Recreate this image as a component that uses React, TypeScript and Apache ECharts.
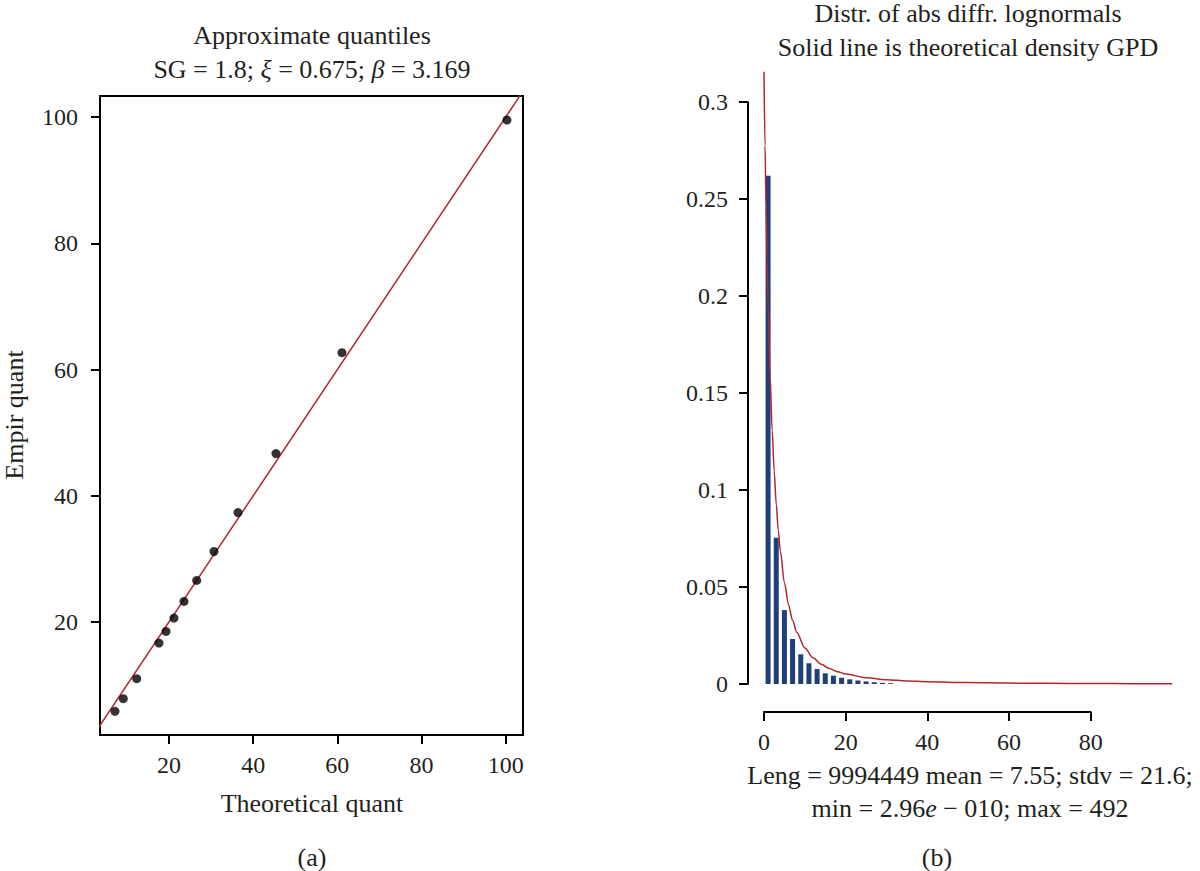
import React, { useEffect, useRef } from 'react';
import * as echarts from 'echarts';

const FONT = '"Liberation Serif", "Times New Roman", serif';
const INK = '#231f20';
const RED = '#b3262e';
const NAVY = '#1f3f78';

// Panel (a): QQ plot
const qqTheoretical = [7.17, 9.14, 12.33, 17.62, 19.29, 21.19, 23.56, 26.58, 30.69, 36.39, 45.42, 61.09, 100.29];
const qqEmpirical = [5.85, 7.86, 11.03, 16.66, 18.51, 20.62, 23.26, 26.58, 31.17, 37.34, 46.68, 62.66, 99.53];
const refLine = [0, 110];
const qqTicks = [20, 40, 60, 80, 100];

// Panel (b): histogram + GPD density
const binCenters = [1, 3, 5, 7, 9, 11, 13, 15, 17, 19, 21, 23, 25, 27, 29, 31];
const binDensity = [0.262, 0.0754, 0.0381, 0.0232, 0.0153, 0.0107, 0.0077, 0.0055, 0.0043, 0.0032, 0.0024, 0.0018, 0.0013, 0.0009, 0.0006, 0.0004];
const gpdX = [0, 0.25, 0.5, 0.75, 1, 1.5, 2, 2.5, 3, 3.5, 4, 5, 6, 7, 8, 10, 12, 14, 16, 18, 20, 25, 30, 35, 40, 50, 60, 70, 80, 90, 100];
const gpdDensity = [0.3156, 0.2774, 0.2455, 0.2185, 0.1954, 0.1586, 0.1308, 0.1094, 0.0926, 0.0792, 0.0684, 0.0522, 0.0409, 0.0328, 0.0267, 0.0186, 0.01355, 0.01023, 0.00795, 0.00632, 0.00513, 0.00324, 0.00221, 0.00158, 0.00118, 0.000713, 0.00047, 0.000329, 0.000241, 0.000182, 0.000142];
const distTicks = [0, 20, 40, 60, 80];

const tickStyle = { color: '#000', width: 2 };
const labelStyle = { fontFamily: FONT, fontSize: 24, color: INK };

function txt(text: string, x: number, y: number, extra: any = {}) {
  return {
    type: 'text',
    x,
    y,
    ...extra,
    style: {
      text,
      fontFamily: FONT,
      fontSize: 26,
      fill: INK,
      textAlign: 'center',
      textVerticalAlign: 'middle',
      ...(extra.style || {}),
    },
  };
}

export default function App() {
  const ref = useRef<HTMLDivElement>(null);
  useEffect(() => {
    if (!ref.current) return;
    const chart = echarts.init(ref.current, null, { renderer: 'svg' });
    const richItalic = {
      i: { fontFamily: FONT, fontSize: 26, fontStyle: 'italic', fill: INK },
    };
    chart.setOption({
      animation: false,
      backgroundColor: '#fff',
      grid: [
        { left: 100, top: 96, width: 423, height: 639, show: true, borderColor: '#000', borderWidth: 2, backgroundColor: 'transparent' },
        { left: 764, top: 102, width: 408.4, height: 582 },
        { left: 764, top: 711, width: 326.7, height: 1 },
      ],
      xAxis: [
        {
          gridIndex: 0, type: 'value', min: 3.61, max: 104.1,
          axisLine: { show: false },
          axisTick: { show: true, customValues: qqTicks, length: 9, lineStyle: tickStyle },
          axisLabel: { customValues: qqTicks, margin: 18, ...labelStyle },
          splitLine: { show: false },
        },
        { gridIndex: 1, type: 'value', min: 0, max: 100, show: false },
        {
          gridIndex: 2, type: 'value', min: 0, max: 80, interval: 20,
          axisLine: { show: true, onZero: false, lineStyle: tickStyle },
          axisTick: { show: true, customValues: distTicks, length: 9, lineStyle: tickStyle },
          axisLabel: { customValues: distTicks, margin: 18, ...labelStyle },
          splitLine: { show: false },
        },
      ],
      yAxis: [
        {
          gridIndex: 0, type: 'value', min: 2.1, max: 103.33,
          axisLine: { show: false },
          axisTick: { show: true, customValues: qqTicks, length: 9, lineStyle: tickStyle },
          axisLabel: { customValues: qqTicks, margin: 22, ...labelStyle },
          splitLine: { show: false },
        },
        {
          gridIndex: 1, type: 'value', min: 0, max: 0.3, interval: 0.05, offset: 16,
          axisLine: { show: true, onZero: false, lineStyle: tickStyle },
          axisTick: { show: true, length: 9, lineStyle: tickStyle },
          axisLabel: { margin: 20, ...labelStyle },
          splitLine: { show: false },
        },
        { gridIndex: 2, type: 'value', min: 0, max: 1, show: false },
      ],
      series: [
        {
          type: 'line', xAxisIndex: 0, yAxisIndex: 0,
          data: refLine.map((v) => [v, v]),
          symbol: 'none', clip: true,
          lineStyle: { color: RED, width: 1.5 },
          z: 2,
        },
        {
          type: 'scatter', xAxisIndex: 0, yAxisIndex: 0,
          data: qqTheoretical.map((x, i) => [x, qqEmpirical[i]]),
          symbol: 'circle', symbolSize: 9,
          itemStyle: { color: '#000' },
          z: 3,
        },
        {
          type: 'bar', xAxisIndex: 1, yAxisIndex: 1,
          data: binCenters.map((x, i) => [x, binDensity[i]]),
          barWidth: 5,
          itemStyle: { color: NAVY },
          z: 2,
        },
        {
          type: 'line', xAxisIndex: 1, yAxisIndex: 1,
          data: gpdX.map((x, i) => [x, gpdDensity[i]]),
          symbol: 'none', clip: false,
          smooth: 0.3, smoothMonotone: 'x',
          lineStyle: { color: RED, width: 1.5 },
          z: 3,
        },
      ],
      graphic: [
        txt('Approximate quantiles', 312, 35),
        txt('SG = 1.8; {i|ξ} = 0.675; {i|β} = 3.169', 312, 69, { style: { rich: richItalic } }),
        txt('Empir quant', 14, 415, { rotation: Math.PI / 2 }),
        txt('Theoretical quant', 312, 803),
        txt('(a)', 312, 857),
        txt('Distr. of abs diffr. lognormals', 968, 13),
        txt('Solid line is theoretical density GPD', 968, 47),
        txt('Leng = 9994449 mean = 7.55; stdv = 21.6;', 970, 775),
        txt('min = 2.96{i|e} − 010; max = 492', 970, 808, { style: { rich: richItalic } }),
        txt('(b)', 937, 857),
      ],
    });
    return () => chart.dispose();
  }, []);
  return (
    <div
      ref={ref}
      style={{ position: 'fixed', left: 0, top: 0, width: 1200, height: 871, background: '#fff' }}
    />
  );
}
